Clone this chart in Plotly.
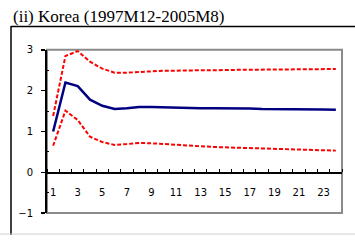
import plotly.graph_objects as go

horizon = list(range(1, 25))
tick_vals = list(range(1, 24, 2))
tick_text = [str(v) for v in tick_vals]

irf = [1.00, 2.20, 2.11, 1.78, 1.63, 1.55, 1.57, 1.60, 1.60, 1.59, 1.58, 1.58,
       1.57, 1.57, 1.57, 1.56, 1.56, 1.55, 1.55, 1.55, 1.54, 1.54, 1.54, 1.53]
upper = [1.38, 2.85, 2.97, 2.71, 2.54, 2.44, 2.44, 2.46, 2.48, 2.49, 2.49, 2.50,
         2.50, 2.50, 2.51, 2.51, 2.51, 2.52, 2.52, 2.52, 2.52, 2.53, 2.53, 2.53]
lower = [0.65, 1.51, 1.28, 0.87, 0.74, 0.67, 0.69, 0.72, 0.71, 0.69, 0.67, 0.65,
         0.63, 0.62, 0.61, 0.60, 0.59, 0.58, 0.57, 0.56, 0.55, 0.54, 0.54, 0.53]

W, H = 355, 241

def fx(x):
    return x / W

def fy(y):
    return 1 - y / H

# plot area in page pixels
PL, PR, PT, PB = 47, 342, 47, 218

fig = go.Figure()
fig.add_trace(go.Scatter(x=horizon, y=upper, mode="lines",
                         line=dict(color="#ff0000", width=2, dash="4px,2px")))
fig.add_trace(go.Scatter(x=horizon, y=lower, mode="lines",
                         line=dict(color="#ff0000", width=2, dash="4px,2px")))
fig.add_trace(go.Scatter(x=horizon, y=irf, mode="lines",
                         line=dict(color="#000080", width=2.5)))

shapes = [
    # plot area gray border
    dict(type="rect", xref="paper", yref="paper", x0=fx(PL), x1=fx(PR), y0=fy(PB), y1=fy(PT),
         line=dict(color="#8a8a8a", width=2), layer="below"),
    # outer frame
    dict(type="line", xref="paper", yref="paper", x0=fx(11), x1=1, y0=fy(22.5), y1=fy(22.5),
         line=dict(color="black", width=1.5)),
    dict(type="line", xref="paper", yref="paper", x0=fx(11), x1=fx(11), y0=fy(22), y1=0,
         line=dict(color="black", width=1.5)),
    dict(type="line", xref="paper", yref="paper", x0=0, x1=1, y0=fy(240), y1=fy(240),
         line=dict(color="#d0d0d0", width=1)),
]

annotations = [
    dict(text="(ii) Korea (1997M12-2005M8)", xref="paper", yref="paper",
         x=fx(11), y=fy(12.5), xanchor="left", yanchor="middle", showarrow=False,
         font=dict(family="Liberation Serif", size=17, color="black")),
]

fig.update_layout(
    width=W, height=H,
    margin=dict(l=0, r=0, t=0, b=0),
    paper_bgcolor="white", plot_bgcolor="rgba(0,0,0,0)",
    showlegend=False,
    shapes=shapes,
    annotations=annotations,
    xaxis=dict(domain=[fx(PL), fx(PR)], range=[0.5, 24.5], tickvals=tick_vals, ticktext=tick_text,
               showgrid=False, zeroline=False, showline=True, linecolor="black", linewidth=1.5,
               anchor="free", position=fy(175), ticks="", ticklabelstandoff=10,
               minor=dict(tick0=0.5, dtick=1, ticks="inside", ticklen=3, tickcolor="black", tickwidth=1),
               tickfont=dict(family="DejaVu Sans", size=10, color="black")),
    yaxis=dict(domain=[fy(PB), fy(PT)], range=[-1, 3], tickvals=[-1, 0, 1, 2, 3],
               ticktext=["\u22121", "0", "1", "2", "3"],
               showgrid=False, zeroline=False, showline=True, linecolor="black", linewidth=2,
               ticks="outside", ticklen=4, tickcolor="black", tickwidth=1.5,
               minor=dict(tick0=0.5, dtick=1, ticks="inside", ticklen=2, tickcolor="black", tickwidth=1),
               ticklabelstandoff=6,
               tickfont=dict(family="DejaVu Sans", size=10, color="black")),
)

fig.write_html("out.html", config={"displayModeBar": False, "staticPlot": True},
               post_script="document.body.style.margin='0px';")
